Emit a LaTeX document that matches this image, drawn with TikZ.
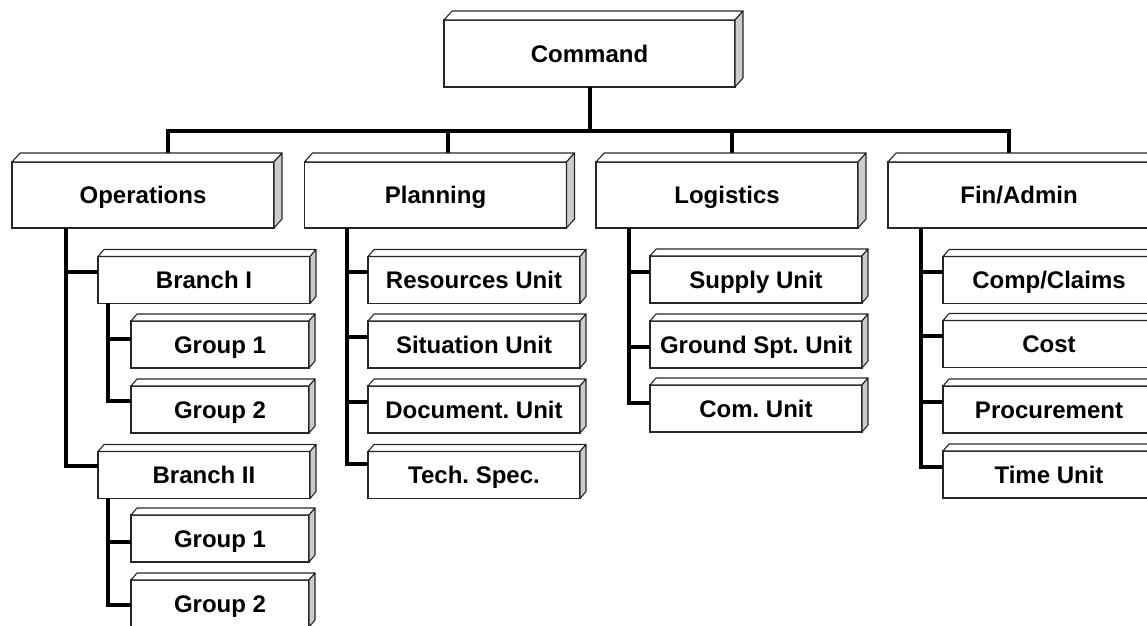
\documentclass[tikz,border=0pt]{standalone}
\usepackage{fontspec}
\setmainfont{Liberation Sans}
\frenchspacing
\definecolor{sidecol}{gray}{0.8}
\definecolor{edgecol}{gray}{0.15}
\tikzset{
  basebox/.style={draw=edgecol,fill=white,line width=1.1pt,outer sep=0pt,inner sep=2pt,
    font=\fontsize{24}{28}\selectfont\bfseries,text height=17pt,text depth=0pt},
  headbox/.style={basebox,minimum width=262pt,minimum height=66pt},
  unitbox/.style={basebox,minimum width=212pt,minimum height=47pt},
  grpbox/.style={basebox,minimum width=178pt,minimum height=47pt},
  conn/.style={line width=4pt,line join=miter},
  face/.style={draw=edgecol,fill=white,line width=1.1pt,line join=round},
}
\begin{document}
\begin{tikzpicture}[x=1pt,y=1pt]
  \useasboundingbox (0,0) rectangle (1147,-625);
  \clip (0,0) rectangle (1147,-625);
  % top and sections
  \node[headbox,minimum width=291pt,minimum height=67pt] (cmd) at (589.5,-53.5) {Command};
  \node[headbox] (ops) at (143,-195) {Operations};
  \node[headbox] (pln) at (435.5,-195) {Planning};
  \node[headbox] (log) at (727,-195) {Logistics};
  \node[headbox] (fin) at (1019,-195) {Fin/Admin};
  % operations
  \node[unitbox] (b1) at (204,-280) {Branch I};
  \node[grpbox] (g1a) at (220,-344.5) {Group 1};
  \node[grpbox] (g2a) at (220,-409.5) {Group 2};
  \node[unitbox] (b2) at (204,-475) {Branch II};
  \node[grpbox] (g1b) at (220,-538.5) {Group 1};
  \node[grpbox] (g2b) at (220,-603.5) {Group 2};
  % planning
  \node[unitbox] (res) at (474,-280) {Resources Unit};
  \node[unitbox] (sit) at (474,-344.5) {Situation Unit};
  \node[unitbox] (doc) at (474,-409.5) {Document. Unit};
  \node[unitbox] (tech) at (474,-475) {Tech. Spec.};
  % logistics
  \node[unitbox] (sup) at (756,-279.5) {Supply Unit};
  \node[unitbox] (gnd) at (756,-344.5) {Ground Spt. Unit};
  \node[unitbox] (com) at (756,-408.5) {Com. Unit};
  % fin/admin
  \node[unitbox] (cc) at (1049,-280) {Comp/Claims};
  \node[unitbox] (cost) at (1049,-344) {Cost};
  \node[unitbox] (proc) at (1049,-409.5) {Procurement};
  \node[unitbox] (time) at (1049,-474.5) {Time Unit};

  \coordinate (opsdrop) at (168,-131);
  \coordinate (plndrop) at (448,-131);
  \coordinate (logdrop) at (732,-131);
  \coordinate (findrop) at (1009,-131);
  \draw[conn] (cmd.south) -- (cmd.south |- opsdrop);
  \draw[conn] (opsdrop |- ops.north) |- (findrop) -- (findrop |- fin.north);
  \draw[conn] (plndrop) -- (plndrop |- pln.north);
  \draw[conn] (logdrop) -- (logdrop |- log.north);

  \coordinate (opsspine) at (66,-228);
  \coordinate (b1spine) at (108,-303);
  \coordinate (b2spine) at (108,-498);
  \coordinate (plnspine) at (347,-228);
  \coordinate (logspine) at (629,-228);
  \coordinate (finspine) at (921,-228);
  \draw[conn] (opsspine) |- ([yshift=8pt]b1.west);
  \draw[conn] (opsspine) |- ([yshift=9pt]b2.west);
  \draw[conn] (b1spine) |- ([yshift=6pt]g1a.west);
  \draw[conn] (b1spine) |- ([yshift=9pt]g2a.west);
  \draw[conn] (b2spine) |- ([yshift=-3pt]g1b.west);
  \draw[conn] (b2spine) |- ([yshift=-1pt]g2b.west);
  \foreach \n in {res,sit,doc}
    \draw[conn] (plnspine) |- ([yshift=8pt]\n.west);
  \draw[conn] (plnspine) |- ([yshift=11pt]tech.west);
  \draw[conn] (logspine) |- ([yshift=8pt]sup.west);
  \draw[conn] (logspine) |- ([yshift=-2pt]gnd.west);
  \draw[conn] (logspine) |- ([yshift=6pt]com.west);
  \foreach \n in {cc,cost,proc,time}
    \draw[conn] (finspine) |- ([yshift=8pt]\n.west);

  % 3d faces
  \foreach \n in {cmd,ops,pln,log,fin} {
    \filldraw[face] (\n.north west) -- ++(8,9) -- ([shift={(8,9)}]\n.north east) -- (\n.north east) -- cycle;
    \filldraw[face,fill=sidecol] (\n.north east) -- ++(8,9) -- ([shift={(8,9)}]\n.south east) -- (\n.south east) -- cycle;
  }
  \foreach \n in {b1,g1a,g2a,b2,g1b,g2b,res,sit,doc,tech,sup,gnd,com,cc,cost,proc,time} {
    \filldraw[face] (\n.north west) -- ++(6,7) -- ([shift={(6,7)}]\n.north east) -- (\n.north east) -- cycle;
    \filldraw[face,fill=sidecol] (\n.north east) -- ++(6,7) -- ([shift={(6,7)}]\n.south east) -- (\n.south east) -- cycle;
  }
\end{tikzpicture}
\end{document}
